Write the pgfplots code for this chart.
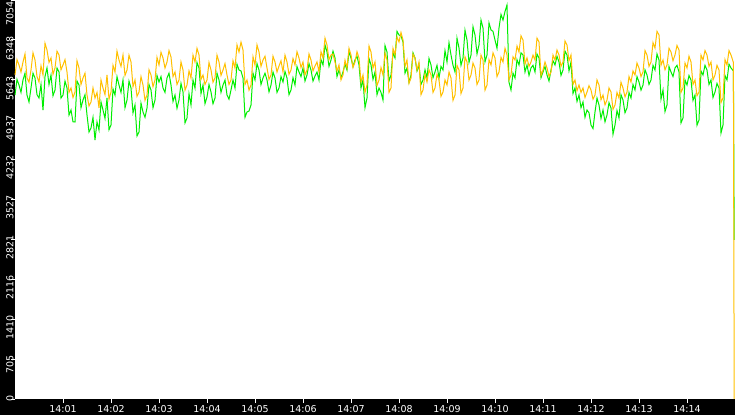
\documentclass[border=0pt]{standalone}
\usepackage{fontspec}
\setmainfont{DejaVu Sans}
\usepackage{pgfplots}
\usepackage{pgfplotstable}
\pgfplotsset{compat=1.18}

\definecolor{trgreen}{RGB}{0,238,0}
\definecolor{trorange}{RGB}{255,192,0}

% t = seconds after 14:00:00, o = orange series, g = green series
\pgfplotstableread{
t o g
0 5728 5374
2.5 6000 5650
5 5905 5551
7.5 5780 5420
10 5958 5640
12.5 6100 5760
15 5675 5374
17.5 5600 5250
20 5816 5498
22.5 6120 5760
25 5993 5675
27.5 5700 5380
30 5604 5321
32.5 5890 5560
35 5728 5109
37.5 6290 5700
40 6170 5852
42.5 5950 5560
45 6029 5728
47.5 5740 5360
50 5852 5463
52.5 6150 5850
55 6082 5781
57.5 5820 5320
60 5905 5374
62.5 6000 5620
65 5781 5498
67.5 5420 5020
70 5498 5109
72.5 5330 4900
75 5427 4897
77.5 5980 5620
80 5852 5551
82.5 5560 5150
85 5675 5286
87.5 5760 5380
90 5374 5021
92.5 5180 4720
95 5251 4791
97.5 5500 4980
100 5321 4579
102.5 5420 4900
105 5145 4756
107.5 5640 5250
110 5498 5109
112.5 5380 4960
115 5728 5321
117.5 5300 4760
120 5427 4844
122.5 5900 5480
125 5781 5374
127.5 6150 5700
130 5993 5551
132.5 5880 5420
135 6082 5640
137.5 5720 5150
140 5816 5286
142.5 6080 5620
145 5958 5498
147.5 5520 5060
150 5640 5198
152.5 5350 4650
155 5427 4720
157.5 5700 5230
160 5551 5074
162.5 5280 4980
165 5374 5145
167.5 5820 5560
170 5728 5463
172.5 5520 5150
175 5640 5286
177.5 6040 5720
180 5905 5604
182.5 6130 5700
185 6029 5498
187.5 5850 5420
190 5958 5675
192.5 6160 5760
195 6046 5551
197.5 5700 5260
200 5781 5374
202.5 5560 5140
205 5640 5286
207.5 5960 5580
210 5816 5427
212.5 5460 4880
215 5551 4968
217.5 5800 5400
220 5675 5198
222.5 6080 5640
225 5958 5498
227.5 6200 5950
230 6082 5852
232.5 5650 5400
235 5728 5551
237.5 5560 5220
240 5640 5339
242.5 5950 5560
245 5816 5427
247.5 5600 5220
250 5675 5321
252.5 6080 5760
255 5958 5640
257.5 5720 5420
260 5816 5551
262.5 5930 5640
265 5728 5374
267.5 5560 5300
270 5640 5463
272.5 5980 5640
275 5852 5498
277.5 6260 5920
280 6135 5816
282.5 6310 5800
285 6170 5675
287.5 5560 4980
290 5640 5074
292.5 5460 5090
295 5551 5198
297.5 6050 5760
300 5905 5640
302.5 6260 5930
305 6135 5816
307.5 5880 5560
310 5993 5675
312.5 6060 5760
315 5852 5640
317.5 5650 5430
320 5728 5551
322.5 6060 5780
325 5958 5675
327.5 5780 5420
330 5887 5498
332.5 5980 5700
335 5781 5604
337.5 6080 5790
340 5958 5675
342.5 5740 5380
345 5816 5463
347.5 6020 5680
350 5905 5551
352.5 6140 5880
355 6029 5781
357.5 5860 5700
360 5958 5852
362.5 5730 5620
365 5816 5728
367.5 6100 5930
370 5993 5816
372.5 5800 5620
375 5887 5710
377.5 5960 5780
380 5781 5640
382.5 6140 6000
385 6029 5905
387.5 6380 6260
390 6258 6135
392.5 6000 5880
395 6082 5993
397.5 6100 6150
400 5958 6029
402.5 5800 5700
405 5905 5816
407.5 5640 5680
410 5728 5781
412.5 5990 5920
415 5852 5816
417.5 6200 6140
420 6082 6029
422.5 5860 5880
425 5958 5993
427.5 6140 6060
430 6029 5905
432.5 5600 5500
435 5728 5640
437.5 5420 5150
440 5551 5321
442.5 6240 6020
445 6135 5905
447.5 5850 5650
450 5958 5781
452.5 5540 5380
455 5640 5498
457.5 5860 5420
460 5728 5286
462.5 6120 6250
465 5993 6135
467.5 5420 5620
470 5498 5728
472.5 6200 6120
475 6082 6029
477.5 6400 6500
480 6311 6435
482.5 6480 6420
485 6347 6311
487.5 5880 5760
490 5993 5852
492.5 5580 5600
495 5675 5728
497.5 6100 6120
500 6029 6029
502.5 5820 5800
505 5958 5905
507.5 5380 5560
510 5463 5640
512.5 5740 5820
515 5604 5675
517.5 5820 6020
520 5728 5905
522.5 5420 5680
525 5498 5781
527.5 5740 5900
530 5640 5675
532.5 5350 5880
535 5427 5816
537.5 5640 6160
540 5551 5958
542.5 5780 6300
545 5675 6082
547.5 5280 5900
550 5374 5781
552.5 5900 6380
555 5816 6205
557.5 5400 5900
560 5498 6029
562.5 6050 6520
565 5958 6347
567.5 5640 5950
570 5728 6082
572.5 5940 6580
575 5852 6435
577.5 5560 6100
580 5640 6258
582.5 6080 6700
585 5993 6559
587.5 5460 5960
590 5551 6082
592.5 6000 6650
595 5905 6524
597.5 6120 6500
600 6029 6347
602.5 5700 6200
605 5781 6559
607.5 6040 6800
610 5958 6700
612.5 6200 6850
615 6082 6966
617.5 5640 5600
620 5728 5463
622.5 6050 5760
625 5993 5675
627.5 6240 6000
630 6135 5905
632.5 6420 6120
635 6347 6082
637.5 5920 5780
640 6029 5905
642.5 5880 5720
645 5958 5852
647.5 6080 5900
650 5993 5781
652.5 6380 6100
655 6311 6029
657.5 5720 5680
660 5816 5781
662.5 5960 5880
665 5852 5728
667.5 5700 5620
670 5781 5816
672.5 6080 5980
675 5993 5905
677.5 6170 6060
680 6082 5958
682.5 5880 5720
685 5958 5816
687.5 6330 6150
690 6258 6082
692.5 5980 5800
695 6082 5958
697.5 5560 5400
700 5640 5498
702.5 5450 5260
705 5551 5374
707.5 5420 5150
710 5498 5251
712.5 5330 4980
715 5427 5109
717.5 5540 5060
720 5463 4844
722.5 5300 4780
725 5374 5074
727.5 5640 5320
730 5551 5198
732.5 5290 4960
735 5374 5109
737.5 5200 4900
740 5286 5021
742.5 5500 5240
745 5427 5145
747.5 5120 4680
750 5198 4844
752.5 5420 5100
755 5321 4968
757.5 5600 5380
760 5498 5286
762.5 5340 5060
765 5427 5145
767.5 5700 5420
770 5604 5321
772.5 5800 5560
775 5728 5463
777.5 5940 5700
780 5852 5604
782.5 5700 5460
785 5781 5551
787.5 6160 5820
790 6082 5728
792.5 5880 5560
795 5958 5640
797.5 6300 5900
800 6205 5816
802.5 6500 6100
805 6435 5993
807.5 5900 5300
810 5993 5463
812.5 5820 5080
815 5905 5198
817.5 6200 5880
820 6135 5781
822.5 5980 5700
825 6082 5852
827.5 6250 5900
830 6170 5781
832.5 5420 4880
835 5498 4968
837.5 5940 5640
840 5852 5551
842.5 6060 5720
845 5958 5640
847.5 5560 5280
850 5640 5374
852.5 5360 4840
855 5427 4932
857.5 6080 5800
860 5993 5728
862.5 6160 5900
865 6082 5816
867.5 5880 5560
870 5958 5640
872.5 5640 5330
875 5728 5427
877.5 5900 5580
880 5816 5498
882.5 5240 4700
885 5321 4844
887.5 6000 5720
890 5905 5640
892.5 6160 5920
895 6082 5852
898 5950 5800
899 0 2811
}\traffic

\begin{document}
\begin{tikzpicture}
\fill[black] (-15bp,-16bp) rectangle (720bp,0bp);
\fill[black] (-15bp,-16bp) rectangle (0bp,399bp);
\begin{axis}[
    scale only axis,
    width=720bp, height=399bp,
    xmin=0, xmax=900,
    ymin=0, ymax=7054,
    axis line style={draw=none},
    tick pos=left,
    tick align=outside,
    major tick length=4bp,
    every tick/.style={white, line width=0.8bp},
    xtick={60,120,...,840},
    xticklabels={14:01,14:02,14:03,14:04,14:05,14:06,14:07,14:08,14:09,14:10,14:11,14:12,14:13,14:14},
    ytick={0,705.4,1410.8,2116.2,2821.6,3527,4232.4,4937.8,5643.2,6348.6,7054},
    yticklabels={0,705,1410,2116,2821,3527,4232,4937,5643,6348,7054\hspace*{5bp}},
    tick label style={white, font=\fontsize{9.5bp}{11bp}\selectfont, inner sep=0pt},
    xticklabel style={anchor=north, yshift=-2bp},
    yticklabel style={xshift=-1bp, yshift=4bp, rotate=90, anchor=east},
    clip=false,
]
\addplot[trgreen, line width=1bp] table[x=t, y=g] {\traffic};
\addplot[trorange, line width=1bp] table[x=t, y=o] {\traffic};
\end{axis}
\pgfresetboundingbox
\useasboundingbox (-15bp,-16bp) rectangle (720bp,399bp);
\end{tikzpicture}
\end{document}
